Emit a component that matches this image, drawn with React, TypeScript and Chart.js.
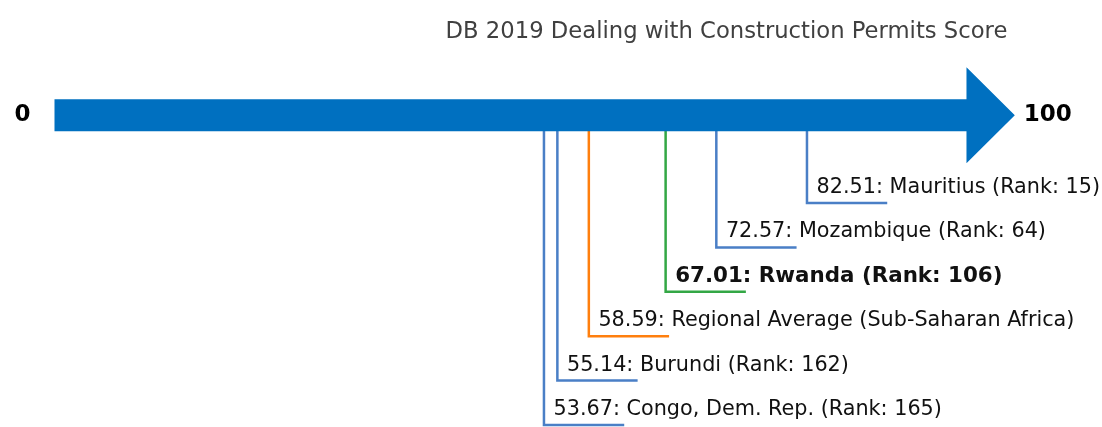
import React, { useEffect, useRef } from "react";
import { Chart, registerables } from "chart.js";

Chart.register(...registerables);

const TITLE = "DB 2019 Dealing with Construction Permits Score";
const names = [
  "Mauritius (Rank: 15)",
  "Mozambique (Rank: 64)",
  "Rwanda (Rank: 106)",
  "Regional Average (Sub-Saharan Africa)",
  "Burundi (Rank: 162)",
  "Congo, Dem. Rep. (Rank: 165)",
];
const scores = [82.51, 72.57, 67.01, 58.59, 55.14, 53.67];
const kinds = ["peer", "peer", "focus", "region", "peer", "peer"];
const levels = [1, 2, 3, 4, 5, 6];
const axisMin = 0;
const axisMax = 100;

const COLORS: Record<string, string> = {
  peer: "#4a7fc6",
  focus: "#33a745",
  region: "#ff7f0e",
};
const BAR_COLOR = "#0070c0";
const BAR_LEVEL = -1;
const LEADER = 8.8;
const FONT = "'DejaVu Sans', sans-serif";

export default function App() {
  const ref = useRef<HTMLCanvasElement | null>(null);
  useEffect(() => {
    if (!ref.current) return;
    const datasets = scores.map((v, i) => ({
      label: names[i],
      data: [
        { x: v, y: BAR_LEVEL },
        { x: v, y: levels[i] },
        { x: v + LEADER, y: levels[i] },
      ],
      showLine: true,
      borderColor: COLORS[kinds[i]],
      borderWidth: 2.5,
      pointRadius: 0,
      fill: false,
      tension: 0,
      clip: false as any,
    }));

    const overlay = {
      id: "overlay",
      afterDatasetsDraw(chart: any) {
        const ctx = chart.ctx as CanvasRenderingContext2D;
        const xs = chart.scales.x;
        const ys = chart.scales.y;
        const x0 = xs.getPixelForValue(axisMin);
        const x1 = xs.getPixelForValue(axisMax);
        const tip = xs.getPixelForValue(axisMax + 5.3);
        const yc = ys.getPixelForValue(BAR_LEVEL) + 1;
        const half = 16;
        const headHalf = 48;
        ctx.save();
        ctx.fillStyle = BAR_COLOR;
        ctx.beginPath();
        ctx.moveTo(x0, yc - half);
        ctx.lineTo(x1, yc - half);
        ctx.lineTo(x1, yc - headHalf);
        ctx.lineTo(tip, yc);
        ctx.lineTo(x1, yc + headHalf);
        ctx.lineTo(x1, yc + half);
        ctx.lineTo(x0, yc + half);
        ctx.closePath();
        ctx.fill();

        ctx.fillStyle = "#000";
        ctx.font = `bold 23px ${FONT}`;
        ctx.textBaseline = "middle";
        ctx.textAlign = "center";
        ctx.fillText(String(axisMin), x0 - 32, yc);
        ctx.textAlign = "left";
        ctx.fillText(String(axisMax), tip + 9, yc);

        scores.forEach((v, i) => {
          const bold = kinds[i] === "focus";
          ctx.font = bold ? `bold 21.4px ${FONT}` : `20.75px ${FONT}`;
          ctx.textAlign = "left";
          ctx.textBaseline = "alphabetic";
          ctx.fillStyle = "#111";
          ctx.fillText(
            `${v.toFixed(2)}: ${names[i]}`,
            xs.getPixelForValue(v + 1.05),
            ys.getPixelForValue(levels[i]) - 10
          );
        });

        ctx.font = `22.7px ${FONT}`;
        ctx.fillStyle = "#404040";
        ctx.textAlign = "center";
        ctx.textBaseline = "middle";
        ctx.fillText(TITLE, 726.5, 32);
        ctx.restore();
      },
    };

    const chart = new Chart(ref.current, {
      type: "scatter",
      data: { datasets },
      options: {
        animation: false,
        responsive: false,
        maintainAspectRatio: false,
        layout: { padding: 0 },
        plugins: {
          legend: { display: false },
          tooltip: { enabled: false },
          title: { display: false },
        },
        scales: {
          x: { type: "linear", min: -5.976, max: 114.86, display: false },
          y: { type: "linear", min: -3.572, max: 6.045, reverse: true, display: false },
        },
      },
      plugins: [overlay],
    });
    return () => chart.destroy();
  }, []);

  return (
    <div style={{ position: "fixed", left: 0, top: 0, width: 1102, height: 427, background: "#fff" }}>
      <canvas ref={ref} width={1102} height={427} style={{ width: 1102, height: 427, display: "block" }} />
    </div>
  );
}
